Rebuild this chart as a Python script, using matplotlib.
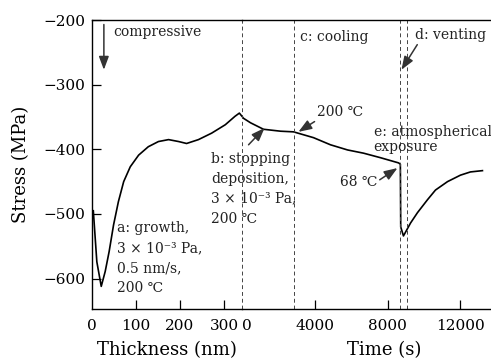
import matplotlib
matplotlib.use('Agg')
import matplotlib.pyplot as plt

plt.rcParams['font.family'] = ['DejaVu Serif', 'DejaVu Sans']

# deposition part (stress vs thickness)
thickness = [3, 11, 21, 30, 39, 49, 60, 72, 87, 106, 128, 151, 174, 197, 215, 242, 272, 303, 325, 335, 341]
stress_dep = [-495, -574, -612, -589, -558, -517, -481, -450, -427, -409, -396, -388, -385, -388, -391, -385, -375, -362, -349, -344, -349]

# after deposition (stress vs time)
time_s = [0, 80, 470, 1180, 2120, 2830, 3930, 4860, 5800, 6680, 7610, 8600, 8700, 8720, 8870, 9260, 9640, 10190, 10630, 11290, 12000, 12550, 13210]
stress_t = [-349, -352, -359, -369, -372, -373, -382, -393, -401, -406, -413, -421, -423, -520, -534, -514, -498, -478, -463, -450, -440, -435, -433]

phase_lines = [0, 2880, 8700, 9040]
thick_ticks = [0, 100, 200, 300]
time_ticks = [0, 4000, 8000, 12000]
stress_ticks = [-200, -300, -400, -500, -600]

W, H = 491, 358
fig = plt.figure(figsize=(W / 100, H / 100), dpi=100)
ax1 = fig.add_axes([92 / W, 49 / H, 150 / W, 289 / H])
ax2 = fig.add_axes([242 / W, 49 / H, 249 / W, 289 / H], sharey=ax1)
ax2.patch.set_visible(False)  # so the b: text of ax1 is not hidden

ax1.plot(thickness, stress_dep, color='black', lw=1.2)
ax2.plot(time_s, stress_t, color='black', lw=1.2)

for t in phase_lines:
    ax2.axvline(t, color='#444444', lw=0.7, ls=(0, (4, 3)), clip_on=False)

ax1.set_xlim(0, 341)
ax2.set_xlim(0, 13680)
ax1.set_ylim(-647, -200)
ax1.set_xticks(thick_ticks)
ax2.set_xticks(time_ticks, labels=[str(t) for t in time_ticks])
ax1.set_yticks(stress_ticks)

ax1.spines['right'].set_visible(False)
ax2.spines['left'].set_visible(False)
ax2.spines['right'].set_visible(False)
for ax in (ax1, ax2):
    for s in ax.spines.values():
        s.set_linewidth(1.0)
    ax.tick_params(direction='in', length=6.5, width=0.9, labelsize=11, top=False, right=False)
    ax.tick_params(axis='x', pad=7)
ax1.tick_params(axis='y', pad=5)
ax2.tick_params(axis='y', left=False, labelleft=False)
# 0 ticks sit on the spine / dashed line, no tick mark there
ax1.xaxis.get_major_ticks()[0].tick1line.set_visible(False)
ax2.xaxis.get_major_ticks()[0].tick1line.set_visible(False)
# time "0" is set a bit to the right so it stays clear of "300"
t0 = ax2.xaxis.get_major_ticks()[0].label1
t0.set_horizontalalignment('left')
ax1.xaxis.get_major_ticks()[-1].label1.set_horizontalalignment('center')

ax1.set_xlabel('Thickness (nm)', fontsize=13)
ax2.set_xlabel('Time (s)', fontsize=13)
ax1.set_ylabel('Stress (MPa)', fontsize=13)
ax1.xaxis.set_label_coords(0.5, -0.112)
ax2.xaxis.set_label_coords(0.57, -0.112)
ax1.yaxis.set_label_coords(-0.41, 0.5)

arr = dict(arrowstyle='-|>,head_length=0.8,head_width=0.3', color='#333333', lw=1.1,
           shrinkA=0, shrinkB=0)
fs = 10

ax1.annotate('', xy=(27, -277), xytext=(27, -207), arrowprops=arr)
ax1.text(48, -219, 'compressive', fontsize=fs, va='center', color='#222222')
ax1.text(57, -568, 'a: growth,\n3 × 10⁻³ Pa,\n0.5 nm/s,\n200 ℃', fontsize=fs,
         va='center', linespacing=1.55, color='#222222')
ax1.text(270, -461, 'b: stopping\ndeposition,\n3 × 10⁻³ Pa,\n200 ℃', fontsize=fs,
         va='center', linespacing=1.55, color='#222222')
ax2.annotate('', xy=(1240, -367), xytext=(360, -393), arrowprops=arr)
ax2.annotate('200 ℃', xy=(3100, -373), xytext=(4100, -342), fontsize=fs, va='center',
             color='#222222', arrowprops=dict(arr, relpos=(0.05, 0.0)))
ax2.text(3210, -226, 'c: cooling', fontsize=fs, va='center', color='#222222')
ax2.annotate('d: venting', xy=(8760, -277), xytext=(9530, -223), fontsize=fs, va='center',
             color='#222222', arrowprops=dict(arr, relpos=(0.05, 0.0)))
ax2.text(7230, -385, 'e: atmospherical\nexposure', fontsize=fs, va='center',
         linespacing=1.05, color='#222222')
ax2.annotate('68 ℃', xy=(8540, -429), xytext=(5360, -450), fontsize=fs, va='center',
             color='#222222', arrowprops=dict(arr, relpos=(1.0, 0.5)))

fig.savefig('out.png', dpi=100)
